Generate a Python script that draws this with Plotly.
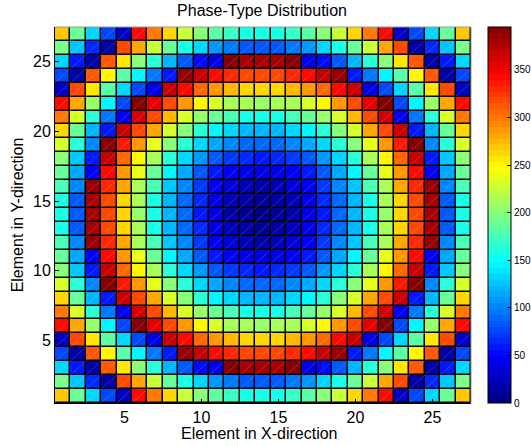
import plotly.graph_objects as go

title_text = "Phase-Type Distribution"
x_title = "Element in X-direction"
y_title = "Element in Y-direction"
tick_vals = [5, 10, 15, 20, 25]
cbar_ticks = [0, 50, 100, 150, 200, 250, 300, 350]
vmin, vmax = 0, 395

# rows listed from y=1 (bottom) to y=27 (top); columns x=1..27
r27 = [270,190,135,80,25,340,300,265,225,200,185,170,160,160,160,170,185,200,225,265,300,340,25,80,135,190,270]
r26 = [195,125,65,15,315,280,225,190,160,130,110,95,85,85,85,95,110,130,160,190,225,280,315,15,65,125,195]
r25 = [135,60,15,310,258,200,165,120,85,55,40,392,382,378,382,392,40,55,85,120,165,200,258,310,15,60,135]
r24 = [80,15,310,250,185,145,95,60,385,365,345,330,320,320,320,330,345,365,385,60,95,145,185,250,310,15,80]
r23 = [25,315,258,185,135,75,40,365,340,305,285,275,265,262,265,275,285,305,340,365,40,75,135,185,258,315,25]
r22 = [340,280,205,145,80,392,355,320,290,250,230,215,210,208,210,215,230,250,290,320,355,392,80,145,205,280,340]
r21 = [300,230,165,95,45,360,320,275,232,205,190,175,160,160,160,175,190,205,232,275,320,360,45,95,165,230,300]
r20 = [265,190,120,60,368,320,278,230,200,165,148,130,122,122,122,130,148,165,200,230,278,320,368,60,120,190,265]
r19 = [230,165,100,390,335,287,237,200,165,135,115,100,92,90,92,100,115,135,165,200,237,287,335,390,100,165,230]
r18 = [200,128,60,368,308,250,215,165,130,105,85,70,62,58,62,70,85,105,130,165,215,250,308,368,60,128,200]
r17 = [190,113,45,345,287,237,190,148,115,85,60,48,40,40,40,48,60,85,115,148,190,237,287,345,45,113,190]
r16 = [175,100,388,330,278,215,175,128,100,70,48,35,24,18,24,35,48,70,100,128,175,215,278,330,388,100,175]
r15 = [160,85,382,320,265,210,160,122,92,62,40,24,15,10,15,24,40,62,92,122,160,210,265,320,382,85,160]
r14 = [160,85,378,320,262,208,160,122,90,58,40,18,8,0,8,18,40,58,90,122,160,208,262,320,378,85,160]
rows = [r27,r26,r25,r24,r23,r22,r21,r20,r19,r18,r17,r16,r15,r14,
        r15,r16,r17,r18,r19,r20,r21,r22,r23,r24,r25,r26,r27]
xs = list(range(1, 28))
ys = list(range(1, 28))

def jet(t):
    def c(v):
        return max(0.0, min(1.0, v))
    r = c(min(4*t-1.5, -4*t+4.5))
    g = c(min(4*t-0.5, -4*t+3.5))
    b = c(min(4*t+0.5, -4*t+2.5))
    return f"rgb({round(r*255)},{round(g*255)},{round(b*255)})"

n = 64
scale = []
for i in range(n):
    col = jet((i + 0.5) / n)
    scale.append([i / n, col])
    scale.append([(i + 1) / n, col])

diag_x, diag_y = [], []
for yy in ys:
    for xx in xs:
        diag_x += [xx - 0.5, xx + 0.5, None]
        diag_y += [yy - 0.5, yy + 0.5, None]

FONT = "Liberation Sans"
fig = go.Figure()
fig.add_trace(go.Heatmap(
    z=rows, x=xs, y=ys, zmin=vmin, zmax=vmax, colorscale=scale, xgap=1.5, ygap=1.5,
    colorbar=dict(
        x=(488-55)/416, xanchor="left", y=0, yanchor="bottom", len=1, lenmode="fraction",
        thickness=23, thicknessmode="pixels", xpad=0, ypad=0,
        tickvals=cbar_ticks, ticks="inside", ticklen=4, tickcolor="black", tickwidth=1,
        tickfont=dict(family=FONT, size=10, color="black"),
        outlinecolor="black", outlinewidth=1,
    ),
))
fig.add_trace(go.Scatter(x=diag_x, y=diag_y, mode="lines", showlegend=False, hoverinfo="skip",
                         line=dict(color="rgba(255,255,255,0.35)", width=0.5)))
axis = dict(range=[0.5, 27.5], tickvals=tick_vals, ticks="inside", ticklen=4, tickcolor="black",
            showgrid=False, zeroline=False, showline=True, linecolor="black", linewidth=1,
            tickfont=dict(family=FONT, size=16, color="black"))
fig.update_layout(
    width=531, height=446, autosize=False,
    margin=dict(l=55, r=60, t=27, b=43, autoexpand=False),
    paper_bgcolor="white", plot_bgcolor="black",
    title=dict(text=title_text, x=262/531, xanchor="center", y=1-10/446, yanchor="middle",
               font=dict(family=FONT, size=16, color="black")),
    xaxis=dict(axis),
    yaxis=dict(axis, title=dict(text=y_title, standoff=5, font=dict(family=FONT, size=16, color="black"))),
    annotations=[dict(text=x_title, xref="paper", yref="paper", x=(259.5-55)/416, y=-(433-403)/376,
                      xanchor="center", yanchor="middle", showarrow=False,
                      font=dict(family=FONT, size=16, color="black"))],
    shapes=[
        dict(type="line", xref="paper", yref="paper", x0=0, x1=1, y0=1, y1=1, line=dict(color="#999999", width=1)),
        dict(type="line", xref="paper", yref="paper", x0=1, x1=1, y0=0, y1=1, line=dict(color="#999999", width=1)),
    ],
)
fig.write_html("out.html", post_script="document.body.style.margin='0';",
               config=dict(displayModeBar=False))
